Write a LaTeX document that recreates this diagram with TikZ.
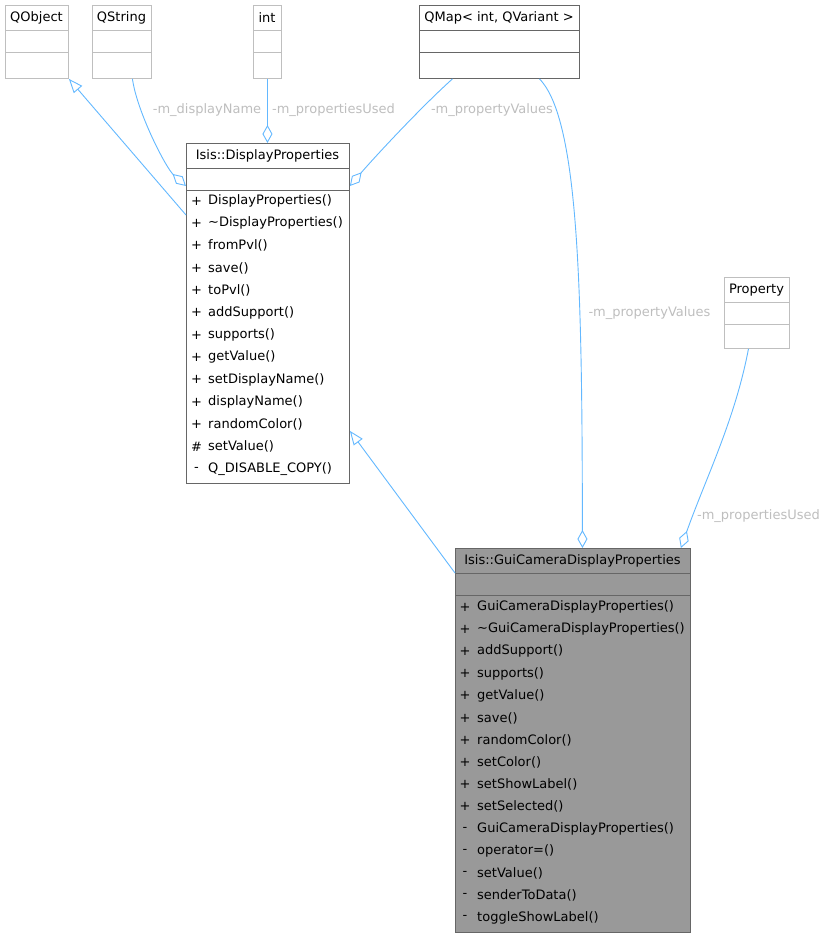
\documentclass[tikz,border=0pt]{standalone}
\usepackage{fontspec}
\setmainfont{DejaVu Sans}
\usetikzlibrary{arrows.meta}
\definecolor{edgec}{HTML}{63B8FF}
\definecolor{lightb}{HTML}{BFBFBF}
\definecolor{darkb}{HTML}{666666}
\definecolor{lblc}{HTML}{BEBEBE}
\definecolor{gfill}{HTML}{999999}
\newcommand\umlbox[8]{%
  \node[box, draw=#6, fill=#7, minimum width=#4pt, minimum height=#5pt] (#1) at (#2,#3) {};
  \draw[#6, line width=0.9pt] (#2,#3+25) -- (#2+#4,#3+25) (#2,#3+47) -- (#2+#4,#3+47);
  \node (#1-title) at (#2+#4/2, #3+13) {#8};
}
\begin{document}
\begin{tikzpicture}[x=1pt,y=-1pt,
  every node/.style={font=\fontsize{13}{15}\selectfont, inner sep=0pt},
  box/.style={line width=0.9pt, anchor=north west},
  lab/.style={text=lblc},
  conn/.style={draw=edgec, line width=0.9pt},
  agg/.style={conn, -{Diamond[open, length=18pt, width=10pt, fill=white]}},
  inh/.style={conn, -{Triangle[open, length=14pt, width=11pt, fill=white]}},
]
\useasboundingbox (0,0) rectangle (826,938);

\umlbox{qobject}{5}{5}{63}{73}{lightb}{white}{QObject}
\umlbox{qstring}{92}{5}{59}{73}{lightb}{white}{QString}
\umlbox{int}{253}{5}{28}{73}{lightb}{white}{int}
\umlbox{qmap}{419}{5}{160}{73}{darkb}{white}{QMap< int, QVariant >}
\umlbox{property}{724}{277}{65}{71}{lightb}{white}{Property}
\umlbox{dp}{186}{143}{163}{340}{darkb}{white}{Isis::DisplayProperties}
\umlbox{gui}{455}{548}{235}{384}{darkb}{gfill}{Isis::GuiCameraDisplayProperties}

% members of Isis::DisplayProperties
\foreach \s/\m [count=\i from 0] in {+/DisplayProperties(), +/\textasciitilde DisplayProperties(), +/fromPvl(), +/save(), +/toPvl(), +/addSupport(), +/supports(), +/getValue(), +/setDisplayName(), +/displayName(), +/randomColor(), \#/setValue(), -/Q\_DISABLE\_COPY()}{
  \node (dps\i) at (196.5, 201+22.33*\i) {\s};
  \node[anchor=west] (dpm\i) at (208, 201+22.33*\i) {\m};
}
% members of Isis::GuiCameraDisplayProperties
\foreach \s/\m [count=\i from 0] in {+/GuiCameraDisplayProperties(), +/\textasciitilde GuiCameraDisplayProperties(), +/addSupport(), +/supports(), +/getValue(), +/save(), +/randomColor(), +/setColor(), +/setShowLabel(), +/setSelected(), -/GuiCameraDisplayProperties(), -/operator=(), -/setValue(), -/senderToData(), -/toggleShowLabel()}{
  \node (gs\i) at (465, 607+22.2*\i) {\s};
  \node[anchor=west] (gm\i) at (477, 607+22.2*\i) {\m};
}

% connectors
\draw[inh] ([yshift=-72pt]dp.north west) -- (qobject.south east);
\draw[agg] ([xshift=10.5pt]qstring.south) .. controls (137,112) and (166,168) .. ([yshift=-43pt]dp.north west);
\draw[agg] (int.south) -- (int.south |- dp.north);
\draw[agg] ([xshift=-47pt]qmap.south) .. controls (420,108) and (372,160) .. ([yshift=-43pt]dp.north east);
\draw[agg] ([xshift=40pt]qmap.south) .. controls (580,120) and (582,300) .. ([xshift=9.5pt]gui.north);
\draw[agg] ([xshift=-8.5pt]property.south) .. controls (735,420) and (705,480) .. ([xshift=-10pt]gui.north east);
\draw[inh] ([yshift=-25pt]gui.north west) -- ([yshift=53pt]dp.south east);

% labels
\node[lab] (l1) at (207,110) {-m\_displayName};
\node[lab] (l2) at (333.5,110) {-m\_propertiesUsed};
\node[lab] (l3) at (492,110) {-m\_propertyValues};
\node[lab] (l4) at (649.5,313) {-m\_propertyValues};
\node[lab] (l5) at (758.5,516) {-m\_propertiesUsed};
\end{tikzpicture}
\end{document}
